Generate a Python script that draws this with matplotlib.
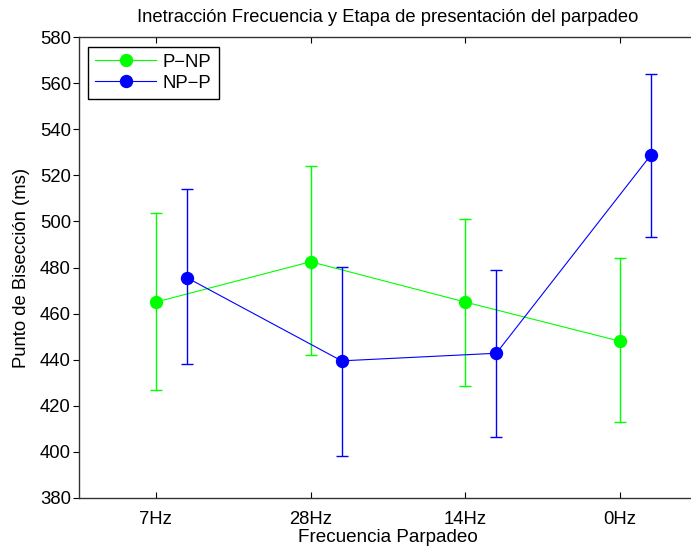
#!/usr/bin/env python3
"""Interaction plot: bisection point by flicker frequency and presentation stage."""

import matplotlib
matplotlib.use("Agg")
import matplotlib.pyplot as plt

frequencies = ["7Hz", "28Hz", "14Hz", "0Hz"]

pnp_mean = [465.0, 482.5, 465.0, 448.0]
pnp_upper = [503.7, 524.0, 501.0, 484.0]
pnp_lower = [427.0, 442.0, 428.5, 413.0]

npp_mean = [475.6, 439.5, 442.8, 528.9]
npp_upper = [514.2, 480.4, 479.0, 564.0]
npp_lower = [438.0, 398.3, 406.4, 493.1]

plt.rcParams["font.family"] = ["Liberation Sans", "DejaVu Sans"]

fig = plt.figure(figsize=(6.91, 5.46), dpi=100)
ax = fig.add_axes([78.5 / 691, 1 - 498 / 546, (697.5 - 78.5) / 691, (498 - 37) / 546])

x = list(range(1, len(frequencies) + 1))
x_shift = [v + 0.2 for v in x]


def draw_series(xs, mean, upper, lower, color, label):
    yerr = [[m - lo for m, lo in zip(mean, lower)], [hi - m for m, hi in zip(mean, upper)]]
    ax.errorbar(xs, mean, yerr=yerr, fmt="none", ecolor=color, elinewidth=1.0,
                capsize=4.3, capthick=1.0)
    ax.plot(xs, mean, color=color, linewidth=0.8, marker="o", markersize=8.6,
            markeredgecolor=color, markerfacecolor=color, label=label)


draw_series(x, pnp_mean, pnp_upper, pnp_lower, "#00ff00", "P\u2212NP")
draw_series(x_shift, npp_mean, npp_upper, npp_lower, "#0000ff", "NP\u2212P")

ax.set_xlim(0.5, 4.5)
ax.set_ylim(380, 580)
ax.set_xticks(x)
ax.set_xticklabels(frequencies)
ax.set_yticks(range(380, 581, 20))

ax.tick_params(axis="x", direction="in", top=True, length=4, width=0.8, labelsize=13.3, pad=9)
ax.tick_params(axis="y", direction="out", length=4, width=0.8, labelsize=13.3, pad=1.5)
for spine in ax.spines.values():
    spine.set_color("#333333")
    spine.set_linewidth(1.0)

ax.set_title("Inetracci\u00f3n Frecuencia y Etapa de presentaci\u00f3n del parpadeo", fontsize=13.2, pad=11)
ax.set_xlabel("Frecuencia Parpadeo", fontsize=13.6, labelpad=1)
ax.set_ylabel("Punto de Bisecci\u00f3n (ms)", fontsize=13.3, labelpad=7)

leg = ax.legend(loc="upper left", bbox_to_anchor=(9.5 / 619, 1 - 9.5 / 461), fontsize=13.3,
                fancybox=False, framealpha=1, edgecolor="black", handlelength=3.3,
                borderpad=0.4, labelspacing=0.2, handletextpad=0.35, borderaxespad=0)
leg.get_frame().set_linewidth(1.0)

fig.savefig("out.png", dpi=100)
